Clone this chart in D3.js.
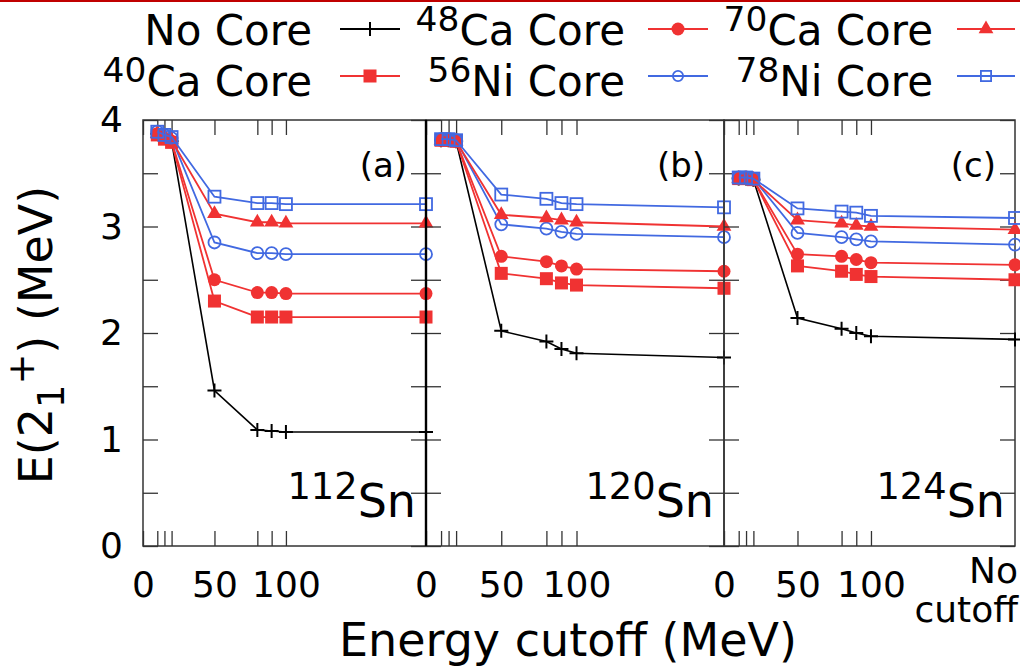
<!DOCTYPE html>
<html>
<head>
<meta charset="utf-8">
<script src="https://cdn.jsdelivr.net/npm/d3@7"></script>
<style>
  body { margin: 0; background: #fff; }
  svg { font-family: "DejaVu Sans", sans-serif; }
</style>
</head>
<body>
<svg width="1020" height="670"></svg>
<script>
// cutoff energies (MeV); the last column is "No cutoff", drawn at the right edge of each panel
var cutoffs = [10, 15, 20, 50, 80, 90, 100, 198];
var xTickVals = [0, 10, 15, 20, 50, 80, 90, 100];
var xTickLabels = [0, 50, 100];
var yTickVals = [0, 0.5, 1, 1.5, 2, 2.5, 3, 3.5, 4];

var coreMass = ['', '40', '48', '56', '70', '78'];
var coreName = ['No Core', 'Ca Core', 'Ca Core', 'Ni Core', 'Ca Core', 'Ni Core'];
var seriesColor = ['#000000', '#f03232', '#f03232', '#4169e1', '#f03232', '#4169e1'];
var seriesShape = ['plus', 'square', 'circle', 'circleOpen', 'triangle', 'squareOpen'];

// E(2+) in MeV, 112Sn
var sn112_noCore = [3.87, 3.84, 3.80, 1.46, 1.09, 1.08, 1.07, 1.07];
var sn112_ca40 = [3.86, 3.82, 3.79, 2.30, 2.15, 2.15, 2.15, 2.15];
var sn112_ca48 = [3.87, 3.83, 3.80, 2.50, 2.38, 2.38, 2.37, 2.37];
var sn112_ni56 = [3.89, 3.86, 3.83, 2.85, 2.75, 2.75, 2.74, 2.74];
var sn112_ca70 = [3.87, 3.84, 3.81, 3.12, 3.04, 3.04, 3.03, 3.03];
var sn112_ni78 = [3.89, 3.86, 3.84, 3.28, 3.22, 3.22, 3.21, 3.21];
// 120Sn
var sn120_noCore = [3.81, 3.81, 3.80, 2.02, 1.92, 1.85, 1.81, 1.77];
var sn120_ca40 = [3.81, 3.81, 3.80, 2.56, 2.51, 2.47, 2.45, 2.42];
var sn120_ca48 = [3.81, 3.81, 3.80, 2.72, 2.67, 2.63, 2.60, 2.58];
var sn120_ni56 = [3.82, 3.82, 3.81, 3.02, 2.98, 2.95, 2.93, 2.90];
var sn120_ca70 = [3.81, 3.81, 3.80, 3.11, 3.08, 3.06, 3.04, 3.00];
var sn120_ni78 = [3.82, 3.82, 3.81, 3.30, 3.26, 3.22, 3.21, 3.18];
// 124Sn
var sn124_noCore = [3.45, 3.45, 3.44, 2.14, 2.04, 2.00, 1.97, 1.94];
var sn124_ca40 = [3.45, 3.45, 3.44, 2.63, 2.58, 2.55, 2.53, 2.50];
var sn124_ca48 = [3.45, 3.45, 3.44, 2.74, 2.72, 2.69, 2.66, 2.64];
var sn124_ni56 = [3.46, 3.46, 3.45, 2.94, 2.90, 2.88, 2.86, 2.83];
var sn124_ca70 = [3.45, 3.45, 3.44, 3.06, 3.03, 3.01, 3.00, 2.97];
var sn124_ni78 = [3.46, 3.46, 3.45, 3.17, 3.14, 3.13, 3.10, 3.08];

var panels = [
  {tag: '(a)', mass: '112', series: [sn112_noCore, sn112_ca40, sn112_ca48, sn112_ni56, sn112_ca70, sn112_ni78]},
  {tag: '(b)', mass: '120', series: [sn120_noCore, sn120_ca40, sn120_ca48, sn120_ni56, sn120_ca70, sn120_ni78]},
  {tag: '(c)', mass: '124', series: [sn124_noCore, sn124_ca40, sn124_ca48, sn124_ni56, sn124_ca70, sn124_ni78]}
];

var panelLeft = [143, 426, 724];
var panelRight = [426, 724, 1015];
var plotTop = 120, plotBottom = 546;

var svg = d3.select('svg');

// thin dark red rule along the top edge
svg.append('line').attr('x1', 0).attr('x2', 1020).attr('y1', 1).attr('y2', 1)
   .attr('stroke', '#c00000').attr('stroke-width', 2);

var y = d3.scaleLinear().domain([0, 4]).range([plotBottom, plotTop]);

// text with gnuplot-like super/subscripts; raise is a fraction of the font size
function rich(g, x, yy, parts, size, anchor, supScale, raise) {
  supScale = supScale || 0.8;
  raise = raise || 0.4;
  var t = g.append('text').attr('x', x).attr('y', yy)
           .attr('font-size', size).attr('text-anchor', anchor).attr('fill', '#000');
  var shift = 0;
  parts.forEach(function (p) {
    var target = p[1] === 'sup' ? -raise * size : p[1] === 'sub' ? 0.25 * size : 0;
    t.append('tspan').attr('dy', target - shift)
     .attr('font-size', p[1] ? size * supScale : size).text(p[0]);
    shift = target;
  });
  return t;
}

function marker(g, shape, color, cx, cy, scale) {
  scale = scale || 1;
  var m = g.append('g').attr('transform', 'translate(' + cx + ',' + cy + ')');
  if (shape === 'plus') {
    m.append('path').attr('d', 'M-7,0H7M0,-7V7').attr('stroke', color).attr('stroke-width', 2);
  } else if (shape === 'square') {
    m.append('rect').attr('x', -6.5 * scale).attr('y', -6.5 * scale)
     .attr('width', 13 * scale).attr('height', 13 * scale).attr('fill', color);
  } else if (shape === 'circle') {
    m.append('circle').attr('r', 6.5 * scale).attr('fill', color);
  } else if (shape === 'triangle') {
    m.append('path').attr('d', d3.symbol(d3.symbolTriangle, 95 * scale * scale)()).attr('fill', color);
  } else if (shape === 'circleOpen') {
    m.append('circle').attr('r', 6 * scale).attr('fill', 'none')
     .attr('stroke', color).attr('stroke-width', 1.8);
  } else if (shape === 'squareOpen') {
    m.append('rect').attr('x', -6 * scale).attr('y', -6 * scale)
     .attr('width', 12 * scale).attr('height', 12 * scale).attr('fill', 'none')
     .attr('stroke', color).attr('stroke-width', 1.8);
  }
}

panels.forEach(function (p, i) {
  var x = d3.scaleLinear().domain([0, 198]).range([panelLeft[i], panelRight[i]]);
  var g = svg.append('g');

  // ticks (inward on all four sides)
  var tickStyle = function (sel) {
    sel.select('.domain').remove();
    sel.selectAll('.tick line').attr('stroke', '#333').attr('stroke-width', 1.3);
    sel.selectAll('text').attr('font-size', 36).attr('font-family', '"DejaVu Sans", sans-serif').attr('fill', '#000');
  };
  g.append('g').attr('transform', 'translate(0,' + plotBottom + ')')
   .call(d3.axisBottom(x).tickValues(xTickVals).tickSize(-15).tickPadding(25)
         .tickFormat(function (d) { return xTickLabels.indexOf(d) >= 0 ? d : ''; }))
   .call(tickStyle);
  g.append('g').attr('transform', 'translate(0,' + plotTop + ')')
   .call(d3.axisTop(x).tickValues(xTickVals).tickSize(-15).tickFormat(''))
   .call(tickStyle);
  g.append('g').attr('transform', 'translate(' + panelLeft[i] + ',0)')
   .call(d3.axisLeft(y).tickValues(yTickVals).tickSize(-15).tickPadding(20)
         .tickFormat(function (d) { return (i === 0 && d % 1 === 0) ? d : ''; }))
   .call(tickStyle);
  g.append('g').attr('transform', 'translate(' + panelRight[i] + ',0)')
   .call(d3.axisRight(y).tickValues(yTickVals).tickSize(-15).tickFormat(''))
   .call(tickStyle);

  // frame
  g.append('rect').attr('x', panelLeft[i]).attr('y', plotTop)
   .attr('width', panelRight[i] - panelLeft[i]).attr('height', plotBottom - plotTop)
   .attr('fill', 'none').attr('stroke', '#333').attr('stroke-width', 1.5);

  // series
  var line = d3.line().x(function (d) { return x(d[0]); }).y(function (d) { return y(d[1]); });
  p.series.forEach(function (vals, k) {
    var pts = cutoffs.map(function (c, j) { return [c, vals[j]]; });
    g.append('path').attr('d', line(pts)).attr('fill', 'none')
     .attr('stroke', seriesColor[k]).attr('stroke-width', k === 0 ? 1.6 : 1.8);
    pts.forEach(function (d) { marker(g, seriesShape[k], seriesColor[k], x(d[0]), y(d[1])); });
  });

  // panel tag and nucleus label
  g.append('text').attr('x', panelRight[i] - 19).attr('y', 177)
   .attr('text-anchor', 'end').attr('font-size', 34).text(p.tag);
  rich(g, panelRight[i] - 10, 517, [[p.mass, 'sup'], ['Sn', '']], 46, 'end');
});

// thicker divider between (a) and (b)
svg.append('line').attr('x1', panelRight[0]).attr('x2', panelRight[0])
   .attr('y1', plotTop).attr('y2', plotBottom).attr('stroke', '#000').attr('stroke-width', 2.4);

// "No cutoff" label under the last panel
svg.append('text').attr('x', 1018).attr('y', 583).attr('text-anchor', 'end')
   .attr('font-size', 36).text('No');
svg.append('text').attr('x', 1018).attr('y', 622).attr('text-anchor', 'end')
   .attr('font-size', 36).text('cutoff');

// axis titles
svg.append('text').attr('x', 568).attr('y', 656).attr('text-anchor', 'middle')
   .attr('font-size', 46).text('Energy cutoff (MeV)');
rich(svg.append('g').attr('transform', 'translate(52,335) rotate(-90)'), 0, 0,
     [['E(2', ''], ['1', 'sub'], ['+', 'sup'], [') (MeV)', '']], 46, 'middle');

// legend: 3 columns x 2 rows, filled column by column
var legCol = [{textEnd: 312, x1: 340, x2: 400}, {textEnd: 625, x1: 648, x2: 708}, {textEnd: 933, x1: 957, x2: 1015}];
var legRow = [{base: 45, mid: 29}, {base: 96, mid: 76}];
coreName.forEach(function (name, k) {
  var c = legCol[Math.floor(k / 2)], r = legRow[k % 2];
  var parts = coreMass[k] ? [[coreMass[k], 'sup'], [name, '']] : [[name, '']];
  rich(svg, c.textEnd, r.base, parts, 42, 'end', 0.82, 0.34);
  svg.append('line').attr('x1', c.x1).attr('x2', c.x2).attr('y1', r.mid).attr('y2', r.mid)
     .attr('stroke', seriesColor[k]).attr('stroke-width', 1.8);
  marker(svg, seriesShape[k], seriesColor[k], (c.x1 + c.x2) / 2, r.mid, seriesShape[k].indexOf('Open') > 0 ? 0.85 : 1);
});
</script>
</body>
</html>
